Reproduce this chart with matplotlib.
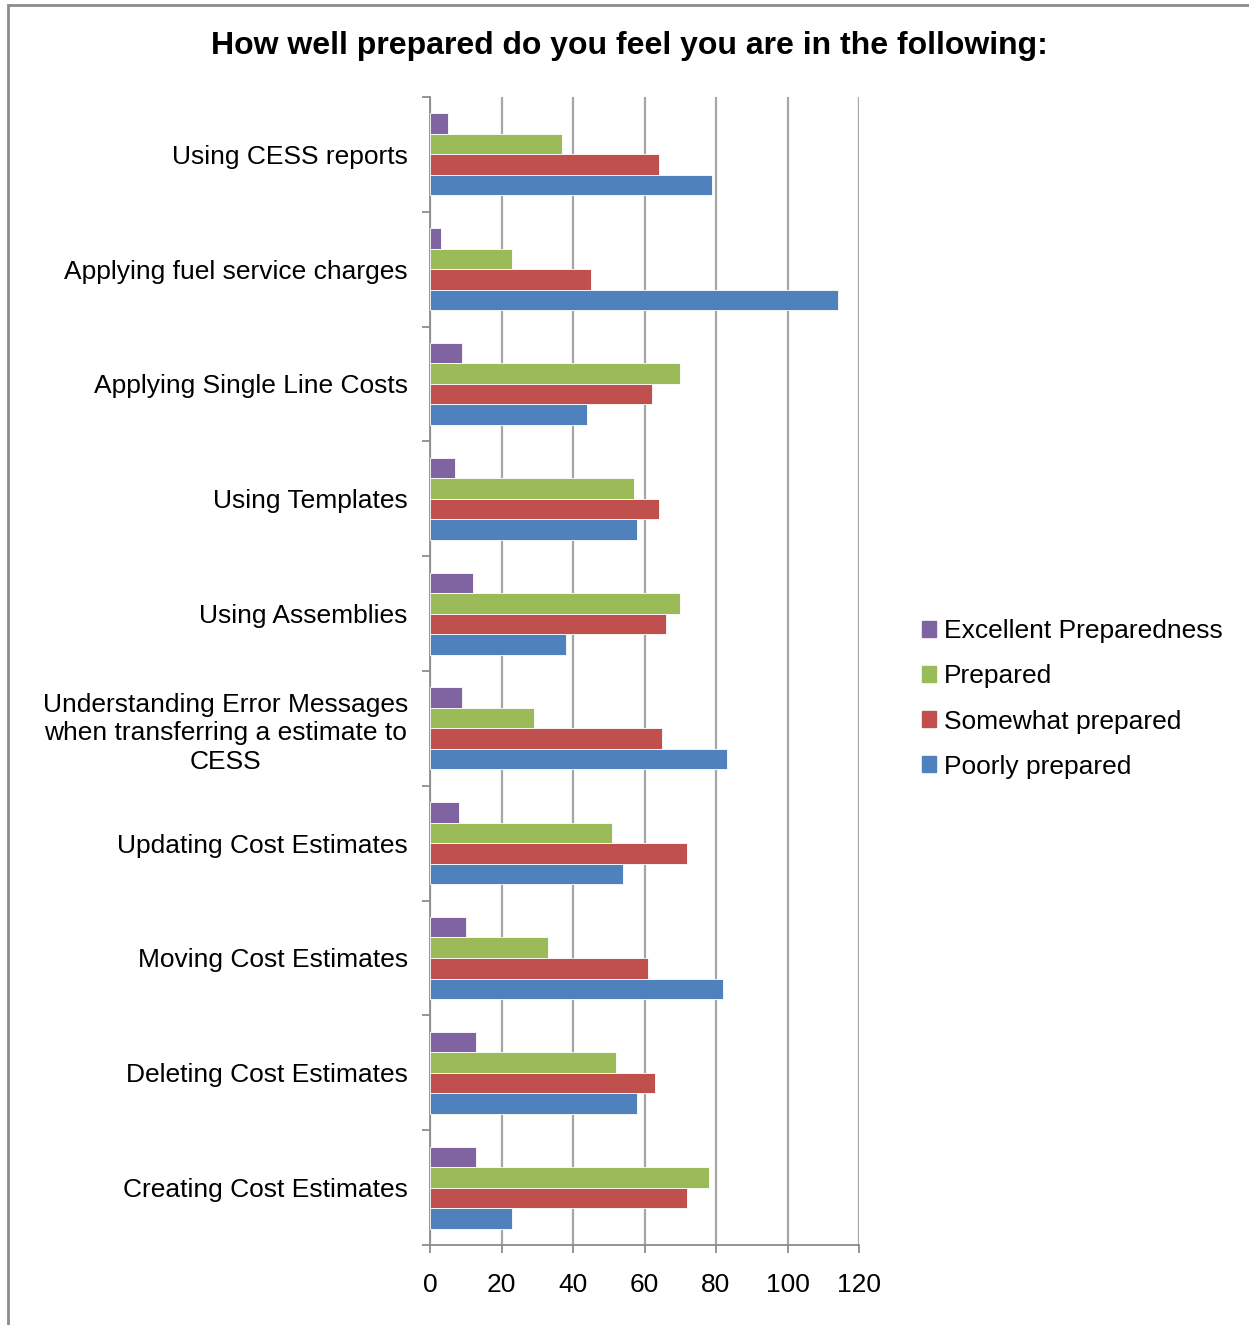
import matplotlib.pyplot as plt
import matplotlib.patches as mpatches
import numpy as np

plt.rcParams['font.family'] = ['Liberation Sans', 'DejaVu Sans']

# categories top to bottom
categories = ['Using CESS reports',
              'Applying fuel service charges',
              'Applying Single Line Costs',
              'Using Templates',
              'Using Assemblies',
              'Understanding Error Messages\nwhen transferring a estimate to\nCESS',
              'Updating Cost Estimates',
              'Moving Cost Estimates',
              'Deleting Cost Estimates',
              'Creating Cost Estimates']

excellent = [5, 3, 9, 7, 12, 9, 8, 10, 13, 13]
prepared = [37, 23, 70, 57, 70, 29, 51, 33, 52, 78]
somewhat = [64, 45, 62, 64, 66, 65, 72, 61, 63, 72]
poorly = [79, 114, 44, 58, 38, 83, 54, 82, 58, 23]

series = [('Excellent Preparedness', excellent, '#8064a2'),
          ('Prepared', prepared, '#9bbb59'),
          ('Somewhat prepared', somewhat, '#c0504d'),
          ('Poorly prepared', poorly, '#4f81bd')]

fig = plt.figure(figsize=(12.49, 13.25), dpi=100)
ax = fig.add_axes([430/1249, 80/1325, 429/1249, 1148/1325])

y = np.arange(len(categories))
h = 1/5.6  # gap width 160%
for i, (name, vals, col) in enumerate(series):
    ax.barh(y + (i-1.5)*h, vals, height=h, color=col, label=name,
            edgecolor='white', linewidth=0.6, zorder=3)

ax.set_xlim(0, 120)
ax.set_ylim(len(categories)-0.5, -0.5)
ax.set_xticks(np.arange(0, 121, 20))
ax.grid(axis='x', color='#a6a6a6', linewidth=1.6, zorder=0)

ax.set_yticks(y)
ax.set_yticklabels(categories, fontsize=19, multialignment='center', linespacing=1.25)
ax.set_yticks(np.arange(-0.5, len(categories), 1), minor=True)
ax.tick_params(axis='y', which='major', length=0, pad=16)
ax.tick_params(axis='y', which='minor', length=6, width=1.3, color='#8c8c8c', direction='out')
ax.tick_params(axis='x', length=6, width=1.3, color='#8c8c8c', labelsize=19, pad=14)

for s in ['top', 'right']:
    ax.spines[s].set_visible(False)
for s in ['left', 'bottom']:
    ax.spines[s].set_color('#8c8c8c')
    ax.spines[s].set_linewidth(1.3)

fig.text(629/1249, 1-46/1325, 'How well prepared do you feel you are in the following:',
         ha='center', va='center', fontsize=23, fontweight='bold')

handles = [mpatches.Patch(color=c, label=n) for n, v, c in series]
fig.legend(handles=handles, loc='center left', bbox_to_anchor=(898/1249, 1-699/1325),
           frameon=False, fontsize=19, handlelength=0.55, handleheight=0.55,
           handletextpad=0.3, labelspacing=0.8)

fig.add_artist(mpatches.Rectangle((8/1249, -0.1), 1.2, 1-5/1325+0.1, transform=fig.transFigure,
                                  fill=False, edgecolor='#8c8c8c', linewidth=2))

fig.savefig('out.png', dpi=100)
